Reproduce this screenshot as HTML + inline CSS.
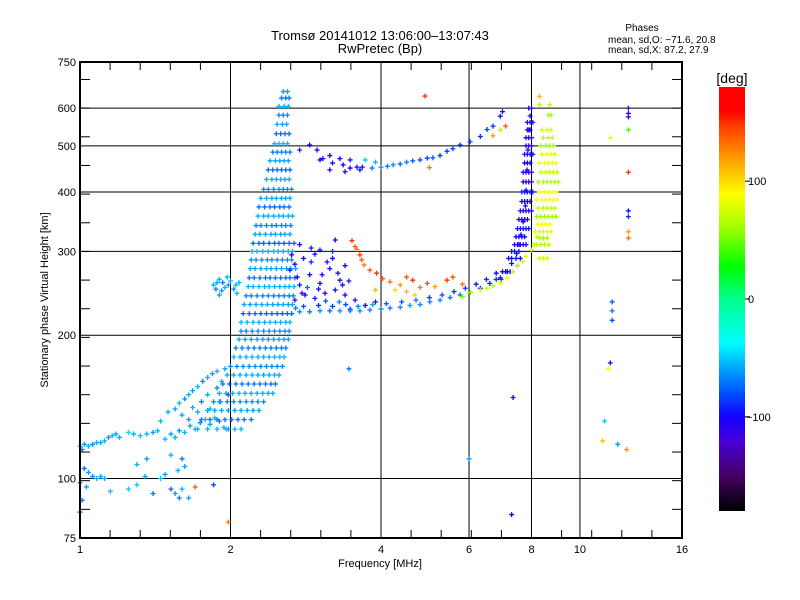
<!DOCTYPE html>
<html><head><meta charset="utf-8">
<style>
html,body{margin:0;padding:0;background:#fff;}
svg{display:block;font-family:"Liberation Sans",sans-serif;}
</style></head>
<body>
<svg id="chart" width="800" height="600" viewBox="0 0 800 600" xmlns="http://www.w3.org/2000/svg">
<rect x="0" y="0" width="800" height="600" fill="#fff"/>
<text x="380" y="40" font-size="13" text-anchor="middle">Tromsø 20141012 13:06:00–13:07:43</text>
<text x="380" y="53" font-size="13" text-anchor="middle">RwPretec (Bp)</text>
<text x="642" y="31" font-size="10" text-anchor="middle">Phases</text>
<text x="608" y="43" font-size="10">mean, sd,O: −71.6, 20.8</text>
<text x="608" y="53" font-size="10">mean, sd,X:  87.2, 27.9</text>
<g id="grid"></g>
<g id="points"></g>
<g id="axes"></g>
<text x="380" y="567" font-size="11" text-anchor="middle">Frequency [MHz]</text>
<text x="48" y="300" font-size="11" text-anchor="middle" transform="rotate(-90 48 300)">Stationary phase Virtual Height [km]</text>
<defs><linearGradient id="cbgrad" x1="0" y1="1" x2="0" y2="0"></linearGradient></defs>
<rect x="719" y="87" width="26" height="424" fill="url(#cbgrad)"/>
<text x="732" y="83" font-size="14" text-anchor="middle">[deg]</text>
<g id="cbticks"></g>
</svg>
<script>
// ---- data ----
const xTickLabels = [1, 2, 4, 6, 8, 10, 16];
const xGrid = [2, 4, 6, 8, 10];
const yTickLabels = [75, 100, 200, 300, 400, 500, 600, 750];
const yGrid = [100, 200, 300, 400, 500, 600];
const cbTickLabels = [100, 0, -100];

// column cloud rows: [height, phase, freqs]
const columnRows = [
[650,-60,[2.55,2.6]],[630,-70,[2.53,2.58,2.62]],[605,-55,[2.5,2.56,2.61]],[580,-65,[2.5,2.55,2.6]],
[555,-58,[2.48,2.54,2.59]],[530,-72,[2.47,2.52,2.57,2.62]],[505,-55,[2.45,2.5,2.55,2.6]],
[485,-68,[2.43,2.48,2.53,2.58,2.63]],[465,-58,[2.4,2.46,2.51,2.56,2.61]],[445,-75,[2.38,2.43,2.48,2.53,2.58,2.63]],
[425,-55,[2.36,2.42,2.47,2.52,2.57,2.62]],[405,-65,[2.33,2.38,2.44,2.5,2.55,2.6,2.65]],
[388,-58,[2.3,2.36,2.42,2.47,2.53,2.58,2.63]],[372,-72,[2.28,2.34,2.4,2.45,2.51,2.56,2.62]],
[356,-55,[2.27,2.33,2.38,2.44,2.5,2.55,2.61,2.66]],[340,-66,[2.25,2.3,2.36,2.42,2.47,2.53,2.58,2.64]],
[326,-58,[2.24,2.29,2.35,2.41,2.46,2.52,2.57,2.63]],[312,-74,[2.22,2.28,2.33,2.39,2.45,2.5,2.56,2.62,2.68]],
[300,-55,[2.21,2.26,2.32,2.38,2.44,2.49,2.55,2.61,2.66]],[288,-65,[2.2,2.25,2.31,2.37,2.42,2.48,2.54,2.6,2.65]],
[276,-58,[2.19,2.24,2.3,2.36,2.41,2.47,2.53,2.59,2.64,2.7]],[264,-72,[2.18,2.23,2.29,2.35,2.4,2.46,2.52,2.58,2.63,2.69]],
[253,-55,[2.17,2.22,2.28,2.34,2.39,2.45,2.51,2.57,2.62,2.68]],[242,-66,[2.15,2.2,2.26,2.32,2.38,2.44,2.5,2.56,2.62,2.67]],
[232,-58,[2.13,2.19,2.25,2.31,2.37,2.43,2.49,2.55,2.61,2.66]],[222,-75,[2.12,2.18,2.24,2.3,2.36,2.42,2.48,2.54,2.6,2.65]],
[213,-55,[2.1,2.16,2.22,2.28,2.34,2.4,2.46,2.52,2.58,2.63]],[204,-65,[2.1,2.15,2.21,2.27,2.33,2.39,2.45,2.51,2.57,2.62]],
[196,-58,[2.08,2.14,2.2,2.26,2.32,2.38,2.44,2.5,2.56,2.61]],[188,-70,[2.05,2.11,2.17,2.23,2.29,2.35,2.41,2.47,2.53,2.58]],
[180,-55,[2.03,2.09,2.15,2.21,2.27,2.33,2.39,2.45,2.51,2.56]],[172,-65,[2.0,2.06,2.12,2.18,2.24,2.3,2.36,2.42,2.48,2.54]],
[165,-58,[1.97,2.03,2.09,2.15,2.21,2.27,2.33,2.39,2.45,2.5]],[158,-72,[1.93,1.99,2.05,2.11,2.17,2.23,2.29,2.35,2.41,2.46]],
[151,-55,[1.9,1.96,2.02,2.08,2.14,2.2,2.26,2.32,2.38,2.43]],[145,-65,[1.85,1.91,1.97,2.03,2.09,2.15,2.21,2.27,2.33]],
[139,-58,[1.8,1.86,1.92,1.98,2.04,2.1,2.16,2.22,2.28]],[133,-70,[1.75,1.82,1.88,1.95,2.01,2.07,2.13,2.2]],
[127,-55,[1.72,1.8,1.88,1.96,2.04,2.1]]
];
// O-mode vertical region near 8 MHz
const oVertRows = [
[600,-105,[7.9,8.0]],[560,-95,[7.85,7.95,8.05]],[540,-100,[7.85,7.95]],[520,-105,[7.8,7.9,8.0]],[500,-110,[7.8,7.9,8.0]],
[480,-95,[7.75,7.85,7.95,8.05]],[460,-100,[7.75,7.85,7.95]],[440,-105,[7.7,7.8,7.9,8.0]],[420,-110,[7.7,7.8,7.9,8.0]],
[400,-95,[7.65,7.75,7.85,7.95,8.05]],[382,-100,[7.65,7.75,7.85,7.95]],[365,-105,[7.6,7.7,7.8,7.9,8.0]],
[350,-110,[7.55,7.65,7.75,7.85]],[335,-95,[7.5,7.6,7.7,7.8,7.9]],[322,-100,[7.45,7.55,7.65,7.75]],
[310,-105,[7.4,7.5,7.6,7.7,7.8]],[300,-95,[7.3,7.4,7.55]],[290,-95,[7.2,7.3,7.45,7.6]],
[272,-100,[7.0,7.1,7.25]],[262,-90,[6.8,6.95]]
];
// X-mode vertical region
const xVertRows = [
[635,110,[8.3]],[610,70,[8.7,8.3]],[580,60,[8.65,8.75]],[540,75,[8.4,8.6,8.75]],[520,70,[8.45,8.65,8.8]],
[500,60,[8.35,8.55,8.7,8.85]],[480,80,[8.4,8.6,8.75,8.9]],[460,85,[8.3,8.5,8.65,8.8,8.95]],
[440,70,[8.35,8.55,8.7,8.85,9.0]],[420,65,[8.25,8.45,8.6,8.75,8.9,9.05]],[400,85,[8.3,8.5,8.65,8.8,8.95]],
[385,90,[8.2,8.4,8.55,8.7,8.85,9.0]],[370,70,[8.25,8.45,8.6,8.75,8.9]],[355,60,[8.2,8.35,8.5,8.65,8.8,8.95]],
[342,90,[8.25,8.4,8.55,8.7]],[330,80,[8.15,8.3,8.45,8.6,8.75]],[320,60,[8.3,8.45,8.6]],[310,65,[8.2,8.35,8.5,8.65]],
[290,75,[8.3,8.45,8.6]]
];
// individual points [freq MHz, height km, phase deg]
const lowPoints = [
[1.0,117,-55],[1.02,118,-60],[1.04,117,-55],[1.06,118,-65],[1.08,119,-55],[1.1,119,-58],[1.12,120,-55],[1.01,115,-70],
[1.14,122,-60],[1.16,123,-55],[1.18,124,-60],[1.2,122,-55],[1.25,125,-45],[1.28,124,-55],[1.32,123,-50],[1.36,124,-55],
[1.4,125,-60],[1.43,126,-55],[1.02,105,-70],[1.04,103,-60],[1.06,101,-65],[1.08,100,-55],[1.1,101,-60],[1.12,100,-55],
[1.0,98,-60],[1.03,96,-60],[1.15,94,-50],[1.0,85,-80],[1.01,90,-70],[1.25,95,-50],[1.3,97,-50],[1.35,101,-60],
[1.45,100,-50],[1.48,102,-60],[1.4,93,-70],[1.52,95,-75],[1.55,93,-60],[1.58,91,-70],[1.6,95,-55],[1.65,91,-60],
[1.7,96,140],[1.57,104,-55],[1.62,106,-60],[1.98,81,130],[1.85,97,-80],
[1.48,121,-55],[1.52,124,-60],[1.55,122,-55],[1.58,126,-65],[1.62,125,-55],[1.66,129,-60],[1.7,127,-55],[1.74,131,-65],
[1.78,133,-55],[1.82,130,-60],[1.86,134,-55],[1.9,132,-70],[1.94,128,-55],[1.98,127,-60],[1.55,140,-60],[1.58,144,-55],
[1.62,147,-65],[1.65,150,-55],[1.68,153,-60],[1.72,156,-55],[1.76,160,-65],[1.8,163,-55],[1.84,166,-60],[1.88,168,-55],
[1.5,138,-55],[1.6,136,-60],[1.68,141,-55],[1.75,145,-70],[1.8,150,-55],[1.88,155,-65],[1.92,160,-55],[1.95,170,-60],
[1.98,150,-75],[1.72,138,-55],[1.65,133,-60],[1.82,140,-55],[1.9,145,-60],[1.45,132,-55],[1.36,110,-60],[1.52,112,-55],
[1.6,110,-70],[1.3,107,-55],
[1.85,255,-55],[1.88,258,-60],[1.9,262,-55],[1.93,258,-70],[1.95,252,-55],[1.98,255,-60],[2.0,260,-55],[2.03,250,-65],
[2.05,255,-55],[1.92,248,-60],[1.97,265,-55],[1.87,250,-70],[2.06,245,-55],[1.9,243,-60],[2.08,258,-55]
];
const oLowerTrace = [
[2.75,224,-65],[2.88,224,-70],[3.02,225,-65],[3.16,225,-75],[3.31,225,-65],[3.47,225,-70],[3.63,225,-65],[3.8,226,-70],
[4.0,227,-65],[4.17,228,-70],[4.37,229,-65],[4.57,231,-60],[4.79,232,-65],[5.01,235,-70],[5.25,237,-65],[5.5,240,-70],
[5.76,243,-75],[6.03,246,-80],[6.32,251,-85],[6.6,257,-90],[6.93,264,-95],[7.16,272,-100],[7.3,283,-105],[7.47,297,-100],
[7.55,310,-105],[7.62,325,-100],[7.7,346,-110],[7.78,374,-105],[7.8,403,-100],[7.84,445,-110],[7.87,490,-105],[7.9,540,-100],
[7.95,578,-105],
[2.8,230,-80],[3.0,231,-90],[3.2,230,-85],[3.4,232,-80],[3.6,230,-70],[3.85,232,-60],[4.1,233,-75],[4.4,235,-80],
[4.7,237,-70],[5.0,240,-85],[5.3,243,-80],[5.6,247,-90],[5.9,251,-85],[6.2,256,-95],[6.5,262,-90],[6.8,270,-100]
];
const oUpperBand = [
[2.69,237,-95],[2.82,243,-100],[2.95,239,-95],[3.09,245,-105],[3.24,249,-95],[3.39,243,-100],[2.75,255,-95],[3.02,257,-105],
[3.31,261,-95],[2.88,268,-100],[3.16,276,-95],[2.69,282,-105],[2.95,296,-95],[2.75,310,-100],[3.02,302,-95],[3.24,317,-100],
[2.63,274,-95],[3.39,280,-105],[3.55,237,-95],[3.72,231,-100],[3.9,235,-95],[3.47,227,-85],[2.85,252,-75],[3.1,236,-80],
[3.3,235,-70],[2.7,228,-70],[2.9,285,-90],[3.2,290,-100],
[2.72,265,-100],[2.8,290,-95],[3.05,268,-100],[3.12,285,-110],[3.28,270,-95],[3.35,255,-100],[2.65,295,-105],[2.9,305,-95],
[3.0,250,-100],[2.78,245,-110],[3.45,260,-95],[3.2,300,-90]
];
const orangeTrace = [
[3.5,316,150],[3.55,307,140],[3.58,303,130],[3.63,295,150],[3.66,288,140],[3.7,281,130],[3.8,274,140],[3.92,270,150],
[4.03,263,140],[4.17,259,130],[4.37,255,120],[4.5,265,140],[4.63,261,150],[4.79,252,130],[4.95,257,140],[5.13,253,120],
[5.42,261,150],[5.57,265,140],[5.82,256,130],[4.5,247,110],[4.27,249,100],[4.67,243,105],[3.9,249,110],[4.9,636,150],[5.0,450,130]
];
const xLowerTrace = [
[5.82,241,50],[6.03,246,60],[6.32,249,70],[6.52,251,75],[6.7,254,65],[6.93,258,70],[7.16,264,80],[7.35,272,70],
[7.5,280,60],[7.68,286,75],[7.8,293,80],[8.0,302,70],[8.1,310,65],[8.2,322,75]
];
const upperTrace = [
[2.88,502,-100],[2.98,490,-100],[3.06,470,-100],[3.2,460,-95],[3.36,456,-100],[3.47,449,-105],[3.58,451,-100],[3.67,451,-95],
[3.84,449,-70],[4.0,451,-65],[4.12,453,-70],[4.23,456,-65],[4.37,458,-75],[4.5,462,-70],[4.63,465,-75],[4.79,467,-80],
[4.95,471,-85],[5.08,472,-80],[5.25,477,-85],[5.42,487,-90],[5.57,493,-85],[5.76,502,-90],[6.03,510,-80],[6.32,523,-90],
[6.52,541,-85],[6.7,550,-90],[6.93,577,-95],[7.0,590,-95],[3.02,467,-100],[3.16,477,-105],[3.31,470,-100],[3.47,467,-95],
[3.16,445,-110],[3.39,441,-100],[3.63,445,-95],[2.75,490,-90],[3.72,467,-50],[3.9,462,-55],[6.7,525,120],[6.93,540,60],[7.1,550,140]
];
const isolatedPoints = [
[12.5,600,-130],[12.5,585,-120],[12.5,575,-120],[12.5,540,40],[11.5,520,80],[12.5,440,150],[12.5,365,-100],[12.5,355,-90],
[12.5,330,120],[12.5,320,130],[11.6,235,-80],[11.6,225,-70],[11.6,215,-80],[11.5,175,-130],[11.4,170,90],[11.2,132,-50],
[11.1,120,110],[11.9,118,-60],[12.4,115,120],[7.35,148,-100],[7.3,84,-100],[6.0,110,-60],[3.45,170,-70]
];
// colour scale stops [phase, r, g, b]
const cStops = [[-180,0,0,0],[-150,70,0,100],[-120,70,0,220],[-100,20,0,255],[-80,0,80,255],[-60,0,160,255],
[-37,0,255,255],[0,0,255,140],[28,0,255,0],[60,160,255,0],[89,255,255,0],[117,255,165,0],[147,255,60,0],[160,255,0,0],[180,255,0,0]];

// ---- scales ----
const X0=80, PX_OCT=150.5, Y0=538, PX_DEC=476, YMIN=75;
function xs(f){return X0+PX_OCT*Math.log2(f);}
function ys(h){return Y0-PX_DEC*Math.log10(h/YMIN);}
function color(p){
  for(let i=0;i<cStops.length-1;i++){
    const a=cStops[i],b=cStops[i+1];
    if(p<=b[0]){const t=Math.max(0,(p-a[0])/(b[0]-a[0]));
      return 'rgb('+Math.round(a[1]+t*(b[1]-a[1]))+','+Math.round(a[2]+t*(b[2]-a[2]))+','+Math.round(a[3]+t*(b[3]-a[3]))+')';}
  }
  return 'rgb(255,0,0)';
}
const NS='http://www.w3.org/2000/svg';
function mk(tag,attrs,parent){const e=document.createElementNS(NS,tag);for(const k in attrs)e.setAttribute(k,attrs[k]);parent.appendChild(e);return e;}

// grid
const grid=document.getElementById('grid');
xGrid.forEach(f=>{const l=mk('line',{x1:xs(f),x2:xs(f),y1:62,y2:538,stroke:'#000','stroke-width':1},grid);

});
yGrid.forEach(h=>{const l=mk('line',{x1:80,x2:682,y1:ys(h),y2:ys(h),stroke:'#000','stroke-width':1},grid);

});

// points
const pts=document.getElementById('points');
function plot(f,h,p,name){
  const x=xs(f),y=ys(h);
  const e=mk('path',{d:'M'+(x-2.5)+' '+y+'h5M'+x+' '+(y-2.5)+'v5',stroke:color(p),'stroke-width':1.3,fill:'none'},pts);
  
  
}
function plotRows(rows,name){rows.forEach(r=>r[2].forEach(f=>plot(f,r[0],r[1],name)));}
plotRows(columnRows,'column-echo-point');
lowPoints.forEach(d=>plot(d[0],d[1],d[2],'low-echo-point'));
oUpperBand.forEach(d=>plot(d[0],d[1],d[2],'o-band-point'));
oLowerTrace.forEach(d=>plot(d[0],d[1],d[2],'o-trace-point'));
plotRows(oVertRows,'o-trace-point');
orangeTrace.forEach(d=>plot(d[0],d[1],d[2],'orange-trace-point'));
xLowerTrace.forEach(d=>plot(d[0],d[1],d[2],'x-trace-point'));
plotRows(xVertRows,'x-trace-point');
upperTrace.forEach(d=>plot(d[0],d[1],d[2],'upper-trace-point'));
isolatedPoints.forEach(d=>plot(d[0],d[1],d[2],'isolated-point'));

// axes
const ax=document.getElementById('axes');
const frame=mk('rect',{x:80,y:62,width:602,height:476,fill:'none',stroke:'#000','stroke-width':2},ax);


for(let k=1;k<20;k++){const x=X0+PX_OCT*k/5;if(k%5===0)continue;
  mk('line',{x1:x,x2:x,y1:538,y2:530,stroke:'#000'},ax);mk('line',{x1:x,x2:x,y1:62,y2:70,stroke:'#000'},ax);}
for(let k=1;k<50;k++){const h=YMIN*Math.pow(2,k/5);if(h>=750)break;const y=ys(h);
  mk('line',{x1:80,x2:90,y1:y,y2:y,stroke:'#000'},ax);mk('line',{x1:682,x2:672,y1:y,y2:y,stroke:'#000'},ax);}
xTickLabels.forEach(f=>{const t=mk('text',{x:xs(f),y:553,'font-size':11,'text-anchor':'middle'},ax);t.textContent=f;

});
yTickLabels.forEach(h=>{const t=mk('text',{x:76,y:ys(h)+4,'font-size':11,'text-anchor':'end'},ax);t.textContent=h;

});

// colorbar
const g=document.getElementById('cbgrad');
cStops.forEach(s=>{mk('stop',{offset:((s[0]+180)/360),'stop-color':'rgb('+s[1]+','+s[2]+','+s[3]+')'},g);});
const cbt=document.getElementById('cbticks');
cbTickLabels.forEach(v=>{const y=511-424*(v+180)/360;
  mk('line',{x1:745,x2:750,y1:y,y2:y,stroke:'#000'},cbt);
  const t=mk('text',{x:v<0?746:748,y:y+4,'font-size':11},cbt);t.textContent=v===-100?'−100':v;
  
  });
</script>
</body></html>
